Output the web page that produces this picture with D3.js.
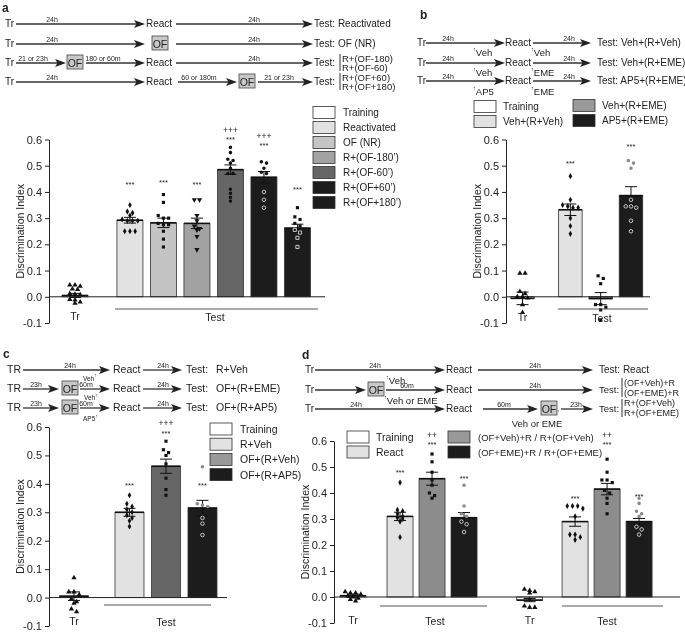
<!DOCTYPE html>
<html><head><meta charset="utf-8">
<script src="https://cdn.jsdelivr.net/npm/d3@7"></script>
<style>body{margin:0;background:#fff} svg{will-change:transform} text{font-family:"Liberation Sans",Arial,Helvetica,sans-serif}</style>
</head><body><svg id="fig" width="685" height="633"></svg>
<script>
// ---------------- DATA ----------------
const yTicks = [-0.1, 0.0, 0.1, 0.2, 0.3, 0.4, 0.5, 0.6];

// Panel a
const aGroups = ["Tr","Reactivated","OF (NR)","R+(OF-180’)","R+(OF-60’)","R+(OF+60’)","R+(OF+180’)"];
const aLegend = ["Training","Reactivated","OF (NR)","R+(OF-180’)","R+(OF-60’)","R+(OF+60’)","R+(OF+180’)"];
const aMeans = [0.005, 0.292, 0.282, 0.28, 0.485, 0.456, 0.262];
const aSems  = [0.008, 0.011, 0.018, 0.02, 0.018, 0.022, 0.015];
const aPoints = [
  [0.045,0.04,0.045,0.03,0.028,0.012,0.01,0.008,-0.01,-0.012,-0.02,-0.025],
  [0.35,0.325,0.32,0.31,0.295,0.29,0.29,0.29,0.25,0.25,0.25],
  [0.39,0.36,0.31,0.30,0.30,0.28,0.275,0.275,0.25,0.22,0.19],
  [0.37,0.37,0.31,0.29,0.27,0.26,0.255,0.23,0.18],
  [0.57,0.55,0.525,0.52,0.51,0.49,0.47,0.47,0.41,0.395,0.38,0.365],
  [0.515,0.51,0.49,0.475,0.47,0.40,0.37,0.34],
  [0.34,0.305,0.295,0.28,0.27,0.255,0.245,0.225,0.19]
];
const aStars = ["","***","***","***","***","***","***"];
const aStarVal = [null,0.43,0.435,0.43,0.60,0.578,0.41];
const aPlus = ["","","","","+++","+++",""];
const aPlusVal = [null,null,null,null,0.636,0.612,null];

// Panel b
const bGroups = ["Tr","Veh+(R+Veh)","Veh+(R+EME)","AP5+(R+EME)"];
const bLegend = ["Training","Veh+(R+Veh)","Veh+(R+EME)","AP5+(R+EME)"];
const bMeans = [-0.006, 0.332, -0.007, 0.386];
const bSems  = [0.024, 0.022, 0.023, 0.034];
const bPoints = [
  [0.09,0.09,0.02,0.012,0.0,0.0,-0.005,-0.03,-0.06],
  [0.46,0.37,0.35,0.345,0.34,0.34,0.30,0.27,0.24],
  [0.08,0.07,0.05,-0.03,-0.03,-0.04,-0.05,-0.09],
  [0.52,0.51,0.49,0.37,0.345,0.345,0.34,0.29,0.25]
];
const bStars = ["","***","","***"];
const bStarVal = [null,0.51,null,0.575];

// Panel c
const cGroups = ["Tr","R+Veh","OF+(R+Veh)","OF+(R+AP5)"];
const cLegend = ["Training","R+Veh","OF+(R+Veh)","OF+(R+AP5)"];
const cMeans = [0.005, 0.30, 0.462, 0.315];
const cSems  = [0.015, 0.014, 0.025, 0.027];
const cPoints = [
  [0.07,0.02,0.02,0.01,-0.005,-0.015,-0.02,-0.04,-0.05],
  [0.36,0.33,0.32,0.31,0.30,0.29,0.28,0.27,0.25],
  [0.55,0.52,0.51,0.50,0.47,0.42,0.38,0.36],
  [0.46,0.33,0.325,0.32,0.28,0.26,0.22]
];
const cStars = ["","***","***","***"];
const cStarVal = [null,0.394,0.578,0.394];
const cPlus = ["","","+++",""];
const cPlusVal = [null,null,0.613,null];

// Panel d
const dGroups = ["Tr","React","(OF+Veh)+R","(OF+EME)+R","Tr ","React ","R+(OF+Veh)","R+(OF+EME)"];
const dLegend = ["Training","React","(OF+Veh)+R / R+(OF+Veh)","(OF+EME)+R / R+(OF+EME)"];
const dMeans = [0.005, 0.31, 0.455, 0.305, -0.012, 0.29, 0.415, 0.29];
const dSems  = [0.006, 0.016, 0.025, 0.02, 0.006, 0.018, 0.022, 0.012];
const dPoints = [
  [0.02,0.015,0.015,0.01,0.005,0.0,-0.005,-0.01,-0.015],
  [0.44,0.335,0.33,0.32,0.31,0.305,0.30,0.29,0.23],
  [0.55,0.52,0.48,0.45,0.43,0.40,0.39,0.38],
  [0.43,0.35,0.32,0.31,0.29,0.28,0.25],
  [0.03,0.025,0.02,0.015,-0.01,-0.035,-0.04,-0.04],
  [0.35,0.35,0.35,0.34,0.31,0.24,0.24,0.23,0.22],
  [0.53,0.48,0.45,0.45,0.44,0.41,0.40,0.38,0.36,0.32],
  [0.38,0.36,0.33,0.32,0.31,0.27,0.26,0.24]
];
const dStars = ["","***","***","***","","***","***","***"];
const dStarVal = [null,0.477,0.585,0.454,null,0.377,0.585,0.388];
const dPlus = ["","","++","","","","++",""];
const dPlusVal = [null,null,0.624,null,null,null,0.624,null];

// ---------------- STYLE / LAYOUT ----------------
const WHITE="#ffffff", LIGHT="#e2e2e2", MID1="#c4c4c4", MID2="#a2a2a2", DARK="#666666", BLACK="#1c1c1c";
const FS = 10;   // schematic text size
const svg = d3.select('#fig');

function T(x,y,s,o={}) {
  return svg.append('text').attr('x',x).attr('y',y).attr('font-size',o.size||FS)
    .attr('text-anchor',o.anchor||'start').attr('dominant-baseline','central')
    .attr('font-weight',o.weight||'normal').attr('fill',o.fill||'#222').text(s);
}
function arrow(x1,x2,y,label,lx) {
  svg.append('line').attr('x1',x1).attr('x2',x2-8).attr('y1',y).attr('y2',y)
    .attr('stroke','#333').attr('stroke-width',1.3);
  svg.append('path').attr('d',`M${x2},${y} L${x2-11},${y-4} L${x2-8.5},${y} L${x2-11},${y+4} Z`).attr('fill','#222');
  if (label) T(lx ?? (x1+x2)/2, y-4.3, label, {size:7, anchor:'middle'});
}
function ofBox(x,y) {
  svg.append('rect').attr('x',x).attr('y',y-7).attr('width',16).attr('height',14)
    .attr('fill','#c8c8c8').attr('stroke','#444').attr('stroke-width',0.8);
  T(x+8,y+0.5,"OF",{size:10.5,anchor:'middle'});
}
function upPre(x,y,s,size) {
  const t = svg.append('text').attr('x',x).attr('y',y).attr('font-size',size)
    .attr('dominant-baseline','central').attr('fill','#222');
  t.append('tspan').attr('font-size',size*0.6).attr('dy',-size*0.3).text('↑');
  t.append('tspan').attr('dy',size*0.3).text(s);
}
function upPost(x,y,s,size) {
  const t = svg.append('text').attr('x',x).attr('y',y).attr('font-size',size)
    .attr('dominant-baseline','central').attr('fill','#222');
  t.append('tspan').text(s);
  t.append('tspan').attr('font-size',size*0.75).attr('dy',-size*0.35).text('↑');
}
function bracket(x,y1,y2){
  svg.append('line').attr('x1',x).attr('x2',x).attr('y1',y1).attr('y2',y2).attr('stroke','#333').attr('stroke-width',1);
}
function legend(x,y0,step,labels,fills,textDx,size) {
  labels.forEach((l,i)=>{
    const yy=y0+i*step;
    svg.append('rect').attr('x',x).attr('y',yy-6).attr('width',22).attr('height',12)
      .attr('fill',fills[i]).attr('stroke','#333').attr('stroke-width',0.8);
    T(x+textDx,yy,l,{size:size});
  });
}
function sym(type){
  if (type==='triUp' || type==='triDown') return d3.symbol().type(d3.symbolTriangle).size(12)();
  if (type==='diamond') return d3.symbol().type(d3.symbolDiamond).size(11)();
  if (type==='square') return d3.symbol().type(d3.symbolSquare).size(10)();
  return d3.symbol().type(d3.symbolCircle).size(10)();
}

function chart(c) {
  const y = d3.scaleLinear().domain([-0.1,0.6]).range([c.yBot,c.yTop]);
  const x = d3.scaleLinear().domain([0,1]).range([c.x0, c.x0+c.step]);
  const g = svg.append('g');
  c.means.forEach((m,i)=>{
    const cx = x(c.slots[i]);
    g.append('rect').attr('x',cx-c.bw/2).attr('width',c.bw)
      .attr('y',y(Math.max(0,m))).attr('height',Math.abs(y(m)-y(0)))
      .attr('fill',c.fills[i]).attr('stroke','#333').attr('stroke-width',0.8);
  });
  g.append('line').attr('x1',c.ax).attr('x2',c.baseEnd).attr('y1',y(0)).attr('y2',y(0))
    .attr('stroke','#222').attr('stroke-width',1);
  const ag = svg.append('g').attr('transform',`translate(${c.ax},0)`)
    .call(d3.axisLeft(y).tickValues(yTicks).tickFormat(d=>d.toFixed(1)).tickSize(4).tickSizeOuter(0));
  ag.selectAll('path,line').attr('stroke','#222');
  ag.selectAll('text').attr('font-size',11).attr('fill','#222')
    .attr('font-family','"Liberation Sans",Arial,sans-serif');
  T(c.ax-29, (c.yTop+c.yBot)/2, "Discrimination Index", {size:10.5, anchor:'middle'})
    .attr('transform',`rotate(-90,${c.ax-29},${(c.yTop+c.yBot)/2})`);
  c.means.forEach((m,i)=>{
    const cx = x(c.slots[i]), s=c.sems[i];
    const isBlack = c.fills[i]===BLACK;
    const eg = g.append('g').attr('stroke', '#111').attr('stroke-width',1);
    eg.append('line').attr('x1',cx).attr('x2',cx).attr('y1',y(m-s)).attr('y2',y(m+s));
    eg.append('line').attr('x1',cx-6).attr('x2',cx+6).attr('y1',y(m-s)).attr('y2',y(m-s));
    eg.append('line').attr('x1',cx-6).attr('x2',cx+6).attr('y1',y(m+s)).attr('y2',y(m+s));
    eg.append('line').attr('x1',cx-c.bw/2).attr('x2',cx+c.bw/2).attr('y1',y(m)).attr('y2',y(m)).attr('stroke-width',1.6);
    const pts = c.points[i].map(v=>({v,py:y(v)})).sort((a,b)=>a.py-b.py);
    const rows=[];
    pts.forEach(p=>{
      const r=rows[rows.length-1];
      if (r && p.py-r[0].py<3.6) r.push(p); else rows.push([p]);
    });
    rows.forEach(r=>r.forEach((p,k)=>{
      const px = cx + (k-(r.length-1)/2)*5.2;
      const inside = isBlack && p.v < m;
      const path = g.append('path').attr('d',sym(c.markers[i]))
        .attr('transform',`translate(${px},${p.py})${c.markers[i]==='triDown'?' rotate(180)':''}`);
      if (inside) path.attr('fill','none').attr('stroke','#d8d8d8').attr('stroke-width',0.9);
      else path.attr('fill', isBlack ? c.aboveBlack : '#111');
    }));
    if (c.stars[i]) T(cx, y(c.starVal[i]), c.stars[i], {size:7.5, anchor:'middle'});
    if (c.plus && c.plus[i]) T(cx, y(c.plusVal[i]), c.plus[i], {size:8.5, anchor:'middle'});
  });
  c.trLabels.forEach(tx=>T(x(tx), c.labY, "Tr", {size:10.5, anchor:'middle'}));
  c.testLines.forEach(([s,e,mid])=>{
    g.append('line').attr('x1',s).attr('x2',e).attr('y1',c.lineY).attr('y2',c.lineY).attr('stroke','#444').attr('stroke-width',0.9);
    T(mid, c.labY+1, "Test", {size:10.5, anchor:'middle'});
  });
}

// ---------------- PANEL a ----------------
T(2,8,"a",{size:12,weight:'bold'});
T(5,23,"Tr"); arrow(16,145,24,"24h",52); T(146,23,"React"); arrow(176,313,24,"24h",254); T(314,23,"Test: Reactivated");
T(5,43,"Tr"); arrow(16,145,44,"24h",52); ofBox(152,43); arrow(176,313,44,"24h",254); T(314,43,"Test: OF (NR)");
T(5,62,"Tr"); arrow(16,66,63,"21 or 23h",33); ofBox(67,62); arrow(86,145,63,"180 or 60m",103); T(146,62,"React");
arrow(176,313,63,"24h",254); T(314,62,"Test:"); bracket(340,54,71); T(342,58,"R+(OF-180)",{size:9.5}); T(342,67,"R+(OF-60)",{size:9.5});
T(5,81,"Tr"); arrow(16,145,82,"24h",52); T(146,81,"React"); arrow(178,237,82,"60 or 180m",199); ofBox(239,81);
arrow(258,313,82,"21 or 23h",279); T(314,81,"Test:"); bracket(340,73,90); T(342,77,"R+(OF+60)",{size:9.5}); T(342,86,"R+(OF+180)",{size:9.5});

chart({ax:49, yTop:139.5, yBot:323, x0:75, step:33.5, bw:26, slots:[0,1.64,2.64,3.64,4.64,5.64,6.64],
  means:aMeans, sems:aSems, points:aPoints,
  fills:[WHITE,LIGHT,MID1,MID2,DARK,BLACK,BLACK],
  markers:['triUp','diamond','square','triDown','circle','circle','square'],
  stars:aStars, starVal:aStarVal, plus:aPlus, plusVal:aPlusVal, aboveBlack:'#111',
  baseEnd:325, trLabels:[0], testLines:[[115,318,215]], lineY:309, labY:316});
legend(313,112.5,15,aLegend,[WHITE,LIGHT,MID1,MID2,DARK,BLACK,BLACK],30,10);

// ---------------- PANEL b ----------------
T(420,14.5,"b",{size:12,weight:'bold'});
T(417,42,"Tr"); arrow(426,505,43,"24h",448); T(505,42,"React"); arrow(533,591,43,"24h",569); T(597,42,"Test: Veh+(R+Veh)");
upPre(473,52,"Veh",9.5); upPre(531,52,"Veh",9.5);
T(417,62,"Tr"); arrow(426,505,63,"24h",448); T(505,62,"React"); arrow(533,591,63,"24h",569); T(597,62,"Test: Veh+(R+EME)");
upPre(473,71.5,"Veh",9.5); upPre(531,71.5,"EME",9.5);
T(417,80,"Tr"); arrow(426,505,81,"24h",448); T(505,80,"React"); arrow(533,591,81,"24h",569); T(597,80,"Test: AP5+(R+EME)");
upPre(473,91,"AP5",9.5); upPre(531,91,"EME",9.5);

chart({ax:506, yTop:139.5, yBot:323, x0:522.5, step:30.3, bw:23.5, slots:[0,1.58,2.58,3.58],
  means:bMeans, sems:bSems, points:bPoints,
  fills:[WHITE,LIGHT,"#7a7a7a",BLACK],
  markers:['triUp','diamond','square','circle'],
  stars:bStars, starVal:bStarVal, aboveBlack:'#8a8a8a',
  baseEnd:650, trLabels:[0], testLines:[[558,648,602]], lineY:309, labY:317});
legend(474,106.5,15,bLegend.slice(0,2),[WHITE,LIGHT],29,10);
legend(573,105.5,15,bLegend.slice(2),["#999999",BLACK],29,10);

// ---------------- PANEL c ----------------
T(3,354,"c",{size:12,weight:'bold'});
T(7,369,"TR",{size:10.5}); arrow(23,110,370,"24h",70); T(113,369,"React",{size:10.5}); arrow(143,182,370,"24h",163); T(186,369,"Test:",{size:10.5}); T(216,369,"R+Veh",{size:10.5});
T(7,388,"TR",{size:10.5}); arrow(23,59,389,"23h",36); ofBox(62,388); upPost(83,377.5,"Veh",6.5); arrow(80,110,389,"60m",86);
T(113,388,"React",{size:10.5}); arrow(143,182,389,"24h",163); T(186,388,"Test:",{size:10.5}); T(216,388,"OF+(R+EME)",{size:10.5}); upPost(84,397,"Veh",6.5);
T(7,407,"TR",{size:10.5}); arrow(23,59,408,"23h",36); ofBox(62,407); arrow(80,110,408,"60m",86);
T(113,407,"React",{size:10.5}); arrow(143,182,408,"24h",163); T(186,407,"Test:",{size:10.5}); T(216,407,"OF+(R+AP5)",{size:10.5}); upPost(83,418,"AP5",6.5);

chart({ax:49, yTop:427, yBot:626, x0:74, step:36.5, bw:29, slots:[0,1.52,2.52,3.52],
  means:cMeans, sems:cSems, points:cPoints,
  fills:[WHITE,LIGHT,"#666666",BLACK],
  markers:['triUp','diamond','square','circle'],
  stars:cStars, starVal:cStarVal, plus:cPlus, plusVal:cPlusVal, aboveBlack:'#8a8a8a',
  baseEnd:227, trLabels:[0], testLines:[[104,211,166]], lineY:605, labY:621});
legend(210,429,15.2,cLegend,[WHITE,LIGHT,"#999999",BLACK],30,10.5);

// ---------------- PANEL d ----------------
T(302,355,"d",{size:12,weight:'bold'});
T(305,369,"Tr"); arrow(315,445,370,"24h",375); upPre(386,380,"Veh",9.5); T(446,369,"React"); arrow(478,593,370,"24h",535); T(599,369,"Test: React");
T(305,389,"Tr"); arrow(315,366,390); ofBox(368,389); arrow(386,445,390,"60m",407); upPre(384,400,"Veh or EME",9.5);
T(446,389,"React"); arrow(478,593,390,"24h",535); T(599,389,"Test:",{size:9.5}); bracket(622,378,397);
T(624,382.5,"(OF+Veh)+R",{size:9}); T(624,392.5,"(OF+EME)+R",{size:9});
T(305,408,"Tr"); arrow(315,445,409,"24h",356); T(446,408,"React"); arrow(483,538,409,"60m",504); ofBox(541,408);
upPre(557,413,"",8); arrow(561,593,409,"23h",576); T(599,408,"Test:",{size:9.5}); bracket(622,399,417);
T(624,403,"R+(OF+Veh)",{size:9}); T(624,413,"R+(OF+EME)",{size:9});
T(537,423.5,"Veh or EME",{size:9.5,anchor:'middle'});

chart({ax:334, yTop:441, yBot:623, x0:353, step:32, bw:26, slots:[0,1.47,2.47,3.47,5.52,6.94,7.94,8.94],
  means:dMeans, sems:dSems, points:dPoints,
  fills:[WHITE,LIGHT,"#8c8c8c",BLACK,WHITE,LIGHT,"#8c8c8c",BLACK],
  markers:['triUp','diamond','square','circle','triUp','diamond','square','circle'],
  stars:dStars, starVal:dStarVal, plus:dPlus, plusVal:dPlusVal, aboveBlack:'#8a8a8a',
  baseEnd:680, trLabels:[0,5.52], testLines:[[380,487,435],[562,663,607]], lineY:606, labY:620});
legend(347,437,15,dLegend.slice(0,2),[WHITE,LIGHT],29,10.5);
legend(448,437,15,dLegend.slice(2),["#999999",BLACK],30,9.5);
</script></body></html>
